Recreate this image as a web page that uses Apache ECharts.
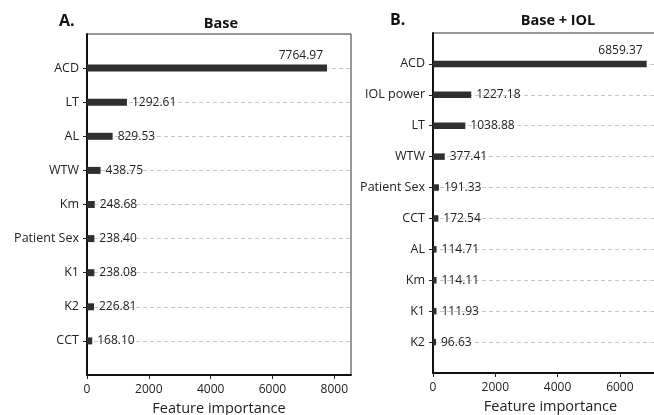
<!DOCTYPE html>
<html><head><meta charset="utf-8">
<script src="https://cdn.jsdelivr.net/npm/echarts@6/dist/echarts.min.js"></script>
<style>html,body{margin:0;padding:0;background:#fff}#c{width:654px;height:415px}</style>
</head><body><div id="c"></div>
<script>
const catsA = ['ACD','LT','AL','WTW','Km','Patient Sex','K1','K2','CCT'];
const valsA = [7764.97,1292.61,829.53,438.75,248.68,238.40,238.08,226.81,168.10];
const catsB = ['ACD','IOL power','LT','WTW','Patient Sex','CCT','AL','Km','K1','K2'];
const valsB = [6859.37,1227.18,1038.88,377.41,191.33,172.54,114.71,114.11,111.93,96.63];
const xTicks = [0,2000,4000,6000,8000];
const xTicksB = [0,2000,4000,6000];

const FONT = '"Open Sans"';
const pad = a => [''].concat(a, ['']);
const padV = a => [null].concat(a.map((v,i) => i === 0 ? {value: v, label: {position:'insideRight', offset:[0,-13], distance:4, color:'#222'}} : v), [null]);

function yAx(idx, cats){
  return {
    type:'category', gridIndex: idx, data: pad(cats), inverse: true, boundaryGap: false,
    axisLine:{show:true, lineStyle:{color:'#111', width:2}},
    axisTick:{show:true, length:4, interval:(i,v)=>v!=='', lineStyle:{color:'#222'}},
    axisLabel:{fontFamily:FONT, fontSize:12.5, color:'#222', margin:8},
    splitLine:{show:true, interval:(i,v)=>v!=='', lineStyle:{color:'#c8c8c8', type:[4,3], width:1}}
  };
}
function xAx(idx, max, ticks){
  return {
    type:'value', gridIndex: idx, min:0, max: max,
    name:'Feature importance', nameLocation:'middle', nameGap:26,
    nameTextStyle:{fontFamily:FONT, fontSize:14.5, color:'#222'},
    axisLine:{show:true, onZero:false, lineStyle:{color:'#111', width:2}},
    axisTick:{show:true, length:4, customValues: ticks, lineStyle:{color:'#222'}},
    axisLabel:{fontFamily:FONT, fontSize:12, color:'#222', margin:9, customValues: ticks, formatter: v => String(v)},
    splitLine:{show:false}
  };
}
function ser(idx, vals, bw){
  return {
    type:'bar', xAxisIndex: idx, yAxisIndex: idx, data: padV(vals), barWidth: bw,
    itemStyle:{color:'#2f2f2f'}, z: 3,
    label:{show:true, position:'right', distance:5, fontFamily:FONT, fontSize:12, color:'#222',
      formatter: p => (p.value == null ? '' : Number(p.value).toFixed(2))}
  };
}
const chart = echarts.init(document.getElementById('c'), null, {renderer:'canvas'});
chart.setOption({
  animation:false,
  textStyle:{fontFamily:FONT},
  title:[
    {text:'A.', left:54, top:8, textStyle:{fontFamily:FONT, fontSize:16, fontWeight:'bold', color:'#111'}},
    {text:'Base', left:216, top:11, textAlign:'center', textStyle:{fontFamily:FONT, fontSize:14.5, fontWeight:'bold', color:'#111'}},
    {text:'B.', left:385, top:7, textStyle:{fontFamily:FONT, fontSize:16, fontWeight:'bold', color:'#111'}},
    {text:'Base + IOL', left:553, top:8, textAlign:'center', textStyle:{fontFamily:FONT, fontSize:14.5, fontWeight:'bold', color:'#111'}}
  ],
  grid:[
    {left:87, top:34, width:264, height:341, outerBoundsMode:'none', containLabel:false, show:true, borderColor:'#333', borderWidth:1, backgroundColor:'transparent'},
    {left:433, top:33, width:235, height:340, outerBoundsMode:'none', containLabel:false, show:true, borderColor:'#333', borderWidth:1, backgroundColor:'transparent'}
  ],
  xAxis:[ xAx(0, Math.max(...valsA)*1.1, xTicks), xAx(1, Math.max(...valsB)*1.1, xTicksB) ],
  yAxis:[ yAx(0, catsA), yAx(1, catsB) ],
  series:[ ser(0, valsA, 7), ser(1, valsB, 6.5) ]
});
</script></body></html>
